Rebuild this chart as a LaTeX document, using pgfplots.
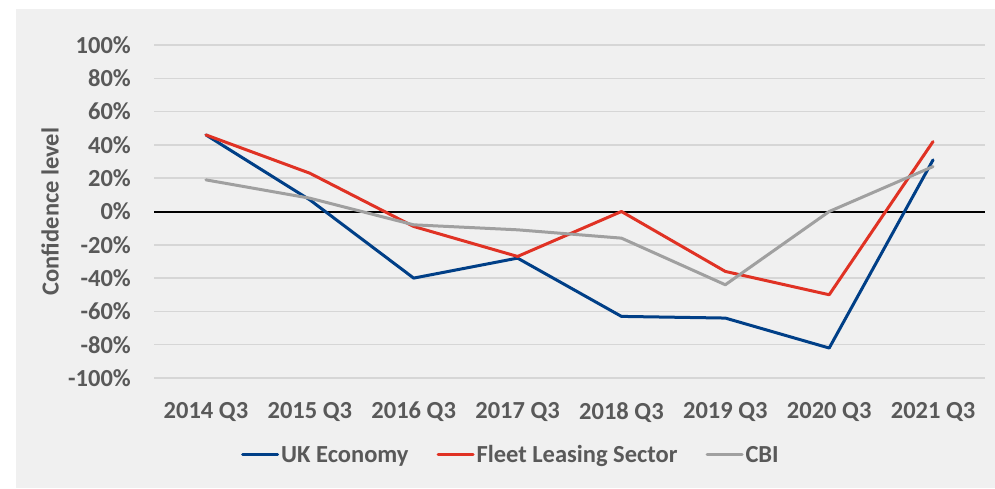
\documentclass[border=0pt]{standalone}
\usepackage{fontspec}
\setmainfont{Carlito}
\usepackage{pgfplots}
\pgfplotsset{compat=1.18}

\definecolor{panel}{HTML}{F0F0F0}
\definecolor{gridgray}{HTML}{D6D6D6}
\definecolor{txt}{HTML}{595959}
\definecolor{ukblue}{HTML}{003F87}
\definecolor{fleetred}{HTML}{E03224}
\definecolor{cbigray}{HTML}{A0A0A0}
\newcommand\lbl{\fontsize{24.5}{29}\selectfont\bfseries}

\begin{document}
\begin{tikzpicture}[x=1pt,y=1pt]
\useasboundingbox (0,0) rectangle (995,488);
\fill[white] (0,0) rectangle (995,488);
\fill[panel] (16,0) rectangle (995,479);
\begin{axis}[
    at={(154pt,110pt)}, anchor=south west,
    scale only axis, width=831pt, height=333pt,
    xmin=-0.5, xmax=7.5, ymin=-100, ymax=100,
    xtick={0,...,7},
    xticklabels={2014 Q3,2015 Q3,2016 Q3,2017 Q3,2018 Q3,2019 Q3,2020 Q3,2021 Q3},
    ytick={-100,-80,...,100},
    yticklabels={-100\%,-80\%,-60\%,-40\%,-20\%,0\%,20\%,40\%,60\%,80\%,100\%},
    ticklabel style={font=\lbl, text=txt, inner sep=0pt},
    xticklabel style={anchor=north, yshift=-24pt},
    yticklabel style={anchor=east, xshift=-23pt},
    major tick length=0pt,
    axis line style={draw=none},
    ymajorgrids,
    major grid style={gridgray, line width=1.5pt},
    extra y ticks={0},
    extra y tick labels={},
    extra y tick style={grid=major, major grid style={black, line width=2pt}},
    ylabel={Confidence level},
    every axis y label/.style={at={(axis description cs:-0.1251,0.5)}, rotate=90, anchor=center, font=\lbl, text=txt},
    legend columns=3,
    legend style={at={(0.4296,-0.231)}, anchor=center, draw=none, fill=none,
        font=\lbl, text=txt, nodes={inner sep=2pt},
        /tikz/every even column/.append style={column sep=26pt}},
    legend image code/.code={\draw[#1, line width=3pt, line cap=round] (0pt,0pt) -- (35pt,0pt);},
    every axis plot/.append style={line width=3pt, line cap=round, line join=round, mark=none},
]
\addplot[ukblue] coordinates {
    (0,46) (1,7) (2,-40) (3,-28) (4,-63) (5,-64) (6,-82) (7,31)
};
\addplot[fleetred] coordinates {
    (0,46) (1,23) (2,-9) (3,-27) (4,0) (5,-36) (6,-50) (7,42)
};
\addplot[cbigray] coordinates {
    (0,19) (1,8) (2,-8) (3,-11) (4,-16) (5,-44) (6,0) (7,27)
};
\legend{UK Economy, Fleet Leasing Sector, CBI}
\end{axis}
\end{tikzpicture}
\end{document}
